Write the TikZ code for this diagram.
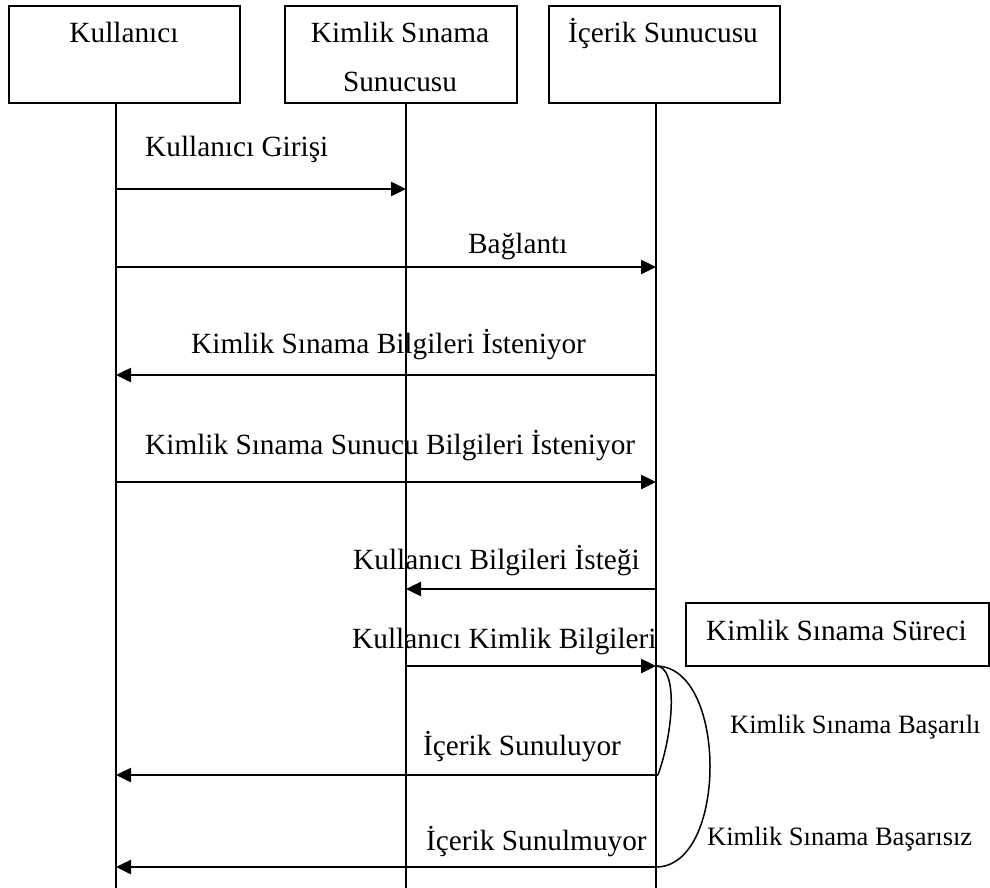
\documentclass[tikz,border=0pt]{standalone}
\usepackage{fontspec}
\setmainfont{Liberation Serif}
\usetikzlibrary{arrows.meta}
\begin{document}
\begin{tikzpicture}[x=1pt,y=-1pt,
  box/.style={draw, line width=1.8pt, rectangle, anchor=north west, inner sep=0pt},
  lifeline/.style={line width=1.7pt},
  msg/.style={line width=2.5pt, -{Triangle[length=15pt,width=14pt]}},
  loopline/.style={line width=1.5pt},
  lbl/.style={anchor=base west, inner sep=0pt, font=\fontsize{29.3}{35}\selectfont},
  title/.style={anchor=base, inner sep=0pt, font=\fontsize{29.3}{35}\selectfont},
  small/.style={anchor=base west, inner sep=0pt, font=\fontsize{26.5}{31}\selectfont}]
\useasboundingbox (0,0) rectangle (990,888);
% boxes
\node[box, minimum width=231pt, minimum height=97pt] (B1) at (8,5) {};
\node[box, minimum width=232pt, minimum height=97pt] (B2) at (284,5) {};
\node[box, minimum width=231pt, minimum height=97pt] (B3) at (548,5) {};
\node[title] (t1) at (124,43) {Kullanıcı};
\node[title] (t2a) at (400,43) {Kimlik Sınama};
\node[title] (t2b) at (400,92) {Sunucusu};
\node[title] (t3) at (663,43) {İçerik Sunucusu};
% lifelines
\coordinate (L1t) at (116,102); \coordinate (L1b) at (116,888);
\coordinate (L2t) at (406,102); \coordinate (L2b) at (406,888);
\coordinate (L3t) at (656,102); \coordinate (L3b) at (656,888);
\draw[lifeline] (L1t) -- (L1b);
\draw[lifeline] (L2t) -- (L2b);
\draw[lifeline] (L3t) -- (L3b);
% message end points
\coordinate (a1) at (116,189); \coordinate (b1) at (406,189);
\coordinate (a2) at (116,267); \coordinate (c2) at (656,267);
\coordinate (a3) at (116,375); \coordinate (c3) at (656,375);
\coordinate (a4) at (116,482); \coordinate (c4) at (656,482);
\coordinate (b5) at (406,589); \coordinate (c5) at (656,589);
\coordinate (b6) at (406,666); \coordinate (c6) at (656,666);
\coordinate (a7) at (116,775); \coordinate (c7) at (658,775);
\coordinate (a8) at (116,867); \coordinate (c8) at (656,867);
% messages
\draw[msg] (a1) -- (b1);
\draw[msg] (a2) -- (c2);
\draw[msg] (c3) -- (a3);
\draw[msg] (a4) -- (c4);
\draw[msg] (c5) -- (b5);
\draw[msg] (b6) -- (c6);
\draw[msg] (c7) -- (a7);
\draw[msg] (c8) -- (a8);
% labels
\node[lbl] (l1) at (145,156) {Kullanıcı Girişi};
\node[lbl] (l2) at (468,253) {Bağlantı};
\node[lbl] (l3) at (191,353) {Kimlik Sınama Bilgileri İsteniyor};
\node[lbl] (l4) at (145,454) {Kimlik Sınama Sunucu Bilgileri İsteniyor};
\node[lbl] (l5) at (353,569) {Kullanıcı Bilgileri İsteği};
\node[lbl] (l6) at (352,648) {Kullanıcı Kimlik Bilgileri};
\node[lbl] (l7) at (423,755) {İçerik Sunuluyor};
\node[lbl] (l8) at (426,850) {İçerik Sunulmuyor};
% process box
\node[box, minimum width=303pt, minimum height=63pt] (P) at (685,602) {};
\node[lbl] (pl) at (706,640) {Kimlik Sınama Süreci};
% loops
\draw[loopline] (c6) .. controls +(22,0) and +(16,-45) .. (c7);
\draw[loopline] (c6) .. controls +(72,0) and +(72,0) .. (c8);
\node[small] (s1) at (730,733) {Kimlik Sınama Başarılı};
\node[small] (s2) at (707,845) {Kimlik Sınama Başarısız};
\end{tikzpicture}
\end{document}
